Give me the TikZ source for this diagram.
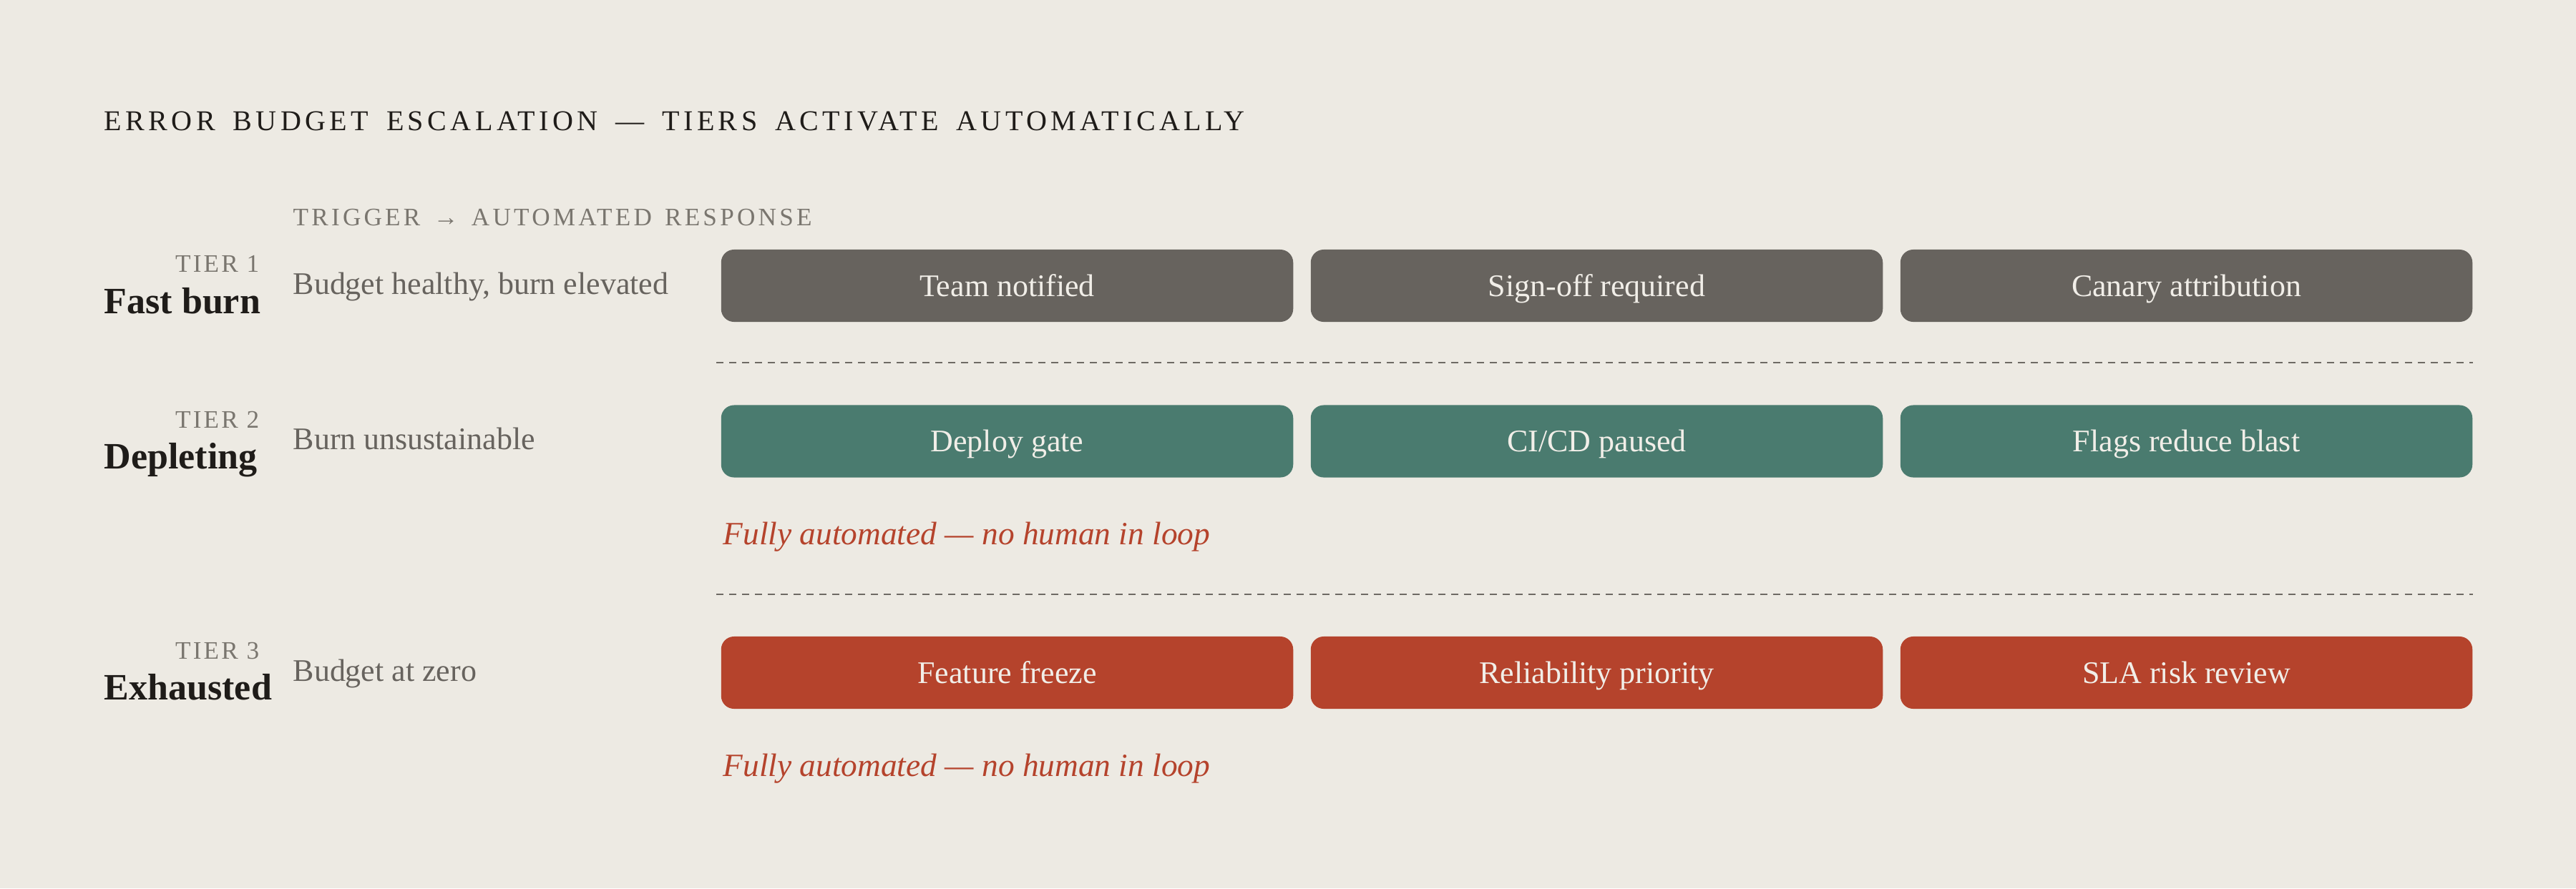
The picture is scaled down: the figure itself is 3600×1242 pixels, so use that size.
\documentclass[tikz,border=0pt]{standalone}
\usepackage{fontspec}
\setmainfont{Liberation Serif}
\newfontfamily\titlefont[LetterSpace=13.5,WordSpace=1.6]{Liberation Serif}
\newfontfamily\headfont[LetterSpace=12,WordSpace=1.4]{Liberation Serif}

\definecolor{paper}{HTML}{EDEAE3}
\definecolor{ink}{HTML}{1F1C19}
\definecolor{muted}{HTML}{7A766F}
\definecolor{slate}{HTML}{67635E}
\definecolor{sage}{HTML}{4A7B6F}
\definecolor{rust}{HTML}{B5432C}
\definecolor{cream}{HTML}{F1EEE8}
\definecolor{rule}{HTML}{6E6A64}

\begin{document}
\begin{tikzpicture}[x=0.01cm,y=-0.01cm,
    headline/.style={inner sep=0pt, text=ink, font=\fontsize{11.4}{13}\titlefont},
    colhead/.style={inner sep=0pt, text=muted, font=\fontsize{10}{12}\headfont},
    tiertag/.style={inner sep=0pt, text=muted, font=\fontsize{10}{12}\selectfont\addfontfeature{LetterSpace=9}},
    tiername/.style={inner sep=0pt, text=ink, font=\fontsize{14.8}{16}\selectfont\bfseries},
    trigger/.style={inner sep=0pt, text=slate, font=\fontsize{12.5}{14}\selectfont},
    action/.style={rounded corners=0.18cm, minimum width=7.99cm, minimum height=1.01cm,
      inner sep=0pt, text=cream, font=\fontsize{12.5}{14}\selectfont, text height=8.3pt, text depth=0pt},
    note/.style={inner sep=0pt, text=rust, font=\fontsize{12.9}{15}\selectfont\itshape},
    divider/.style={draw=rule, line width=0.65pt, dash pattern=on 0.1cm off 0.08cm}]
      \fill[paper] (0,0) rectangle (3600,1242);
      % heading
      \node[headline, anchor=base west] (title) at (145,182) {ERROR BUDGET ESCALATION — TIERS ACTIVATE AUTOMATICALLY};
      \node[colhead, anchor=base west] (colhead) at (409,315) {TRIGGER → AUTOMATED RESPONSE};
      % tier 1
      \node[tiertag, anchor=base east] (tag1) at (363,380) {TIER 1};
      \node[tiername, anchor=base west] (name1) at (145,438) {Fast burn};
      \node[trigger, anchor=base west] (trig1) at (409,411) {Budget healthy, burn elevated};
      \node[action, fill=slate] (act11) at (1407.5,399.5) {Team notified};
      \node[action, fill=slate] (act12) at (2231.5,399.5) {Sign-off required};
      \node[action, fill=slate] (act13) at (3055.5,399.5) {Canary attribution};
      \draw[divider] (1001,507) -- (3456,507);
      % tier 2
      \node[tiertag, anchor=base east] (tag2) at (363,598) {TIER 2};
      \node[tiername, anchor=base west] (name2) at (145,655) {Depleting};
      \node[trigger, anchor=base west] (trig2) at (409,628) {Burn unsustainable};
      \node[action, fill=sage] (act21) at (1407.5,617) {Deploy gate};
      \node[action, fill=sage] (act22) at (2231.5,617) {CI/CD paused};
      \node[action, fill=sage] (act23) at (3055.5,617) {Flags reduce blast};
      \node[note, anchor=base west] (note2) at (1010,761) {Fully automated — no human in loop};
      \draw[divider] (1001,831) -- (3456,831);
      % tier 3
      \node[tiertag, anchor=base east] (tag3) at (363,921) {TIER 3};
      \node[tiername, anchor=base west] (name3) at (145,978) {Exhausted};
      \node[trigger, anchor=base west] (trig3) at (409,952) {Budget at zero};
      \node[action, fill=rust] (act31) at (1407.5,940.5) {Feature freeze};
      \node[action, fill=rust] (act32) at (2231.5,940.5) {Reliability priority};
      \node[action, fill=rust] (act33) at (3055.5,940.5) {SLA risk review};
      \node[note, anchor=base west] (note3) at (1010,1085) {Fully automated — no human in loop};
\end{tikzpicture}
\end{document}
